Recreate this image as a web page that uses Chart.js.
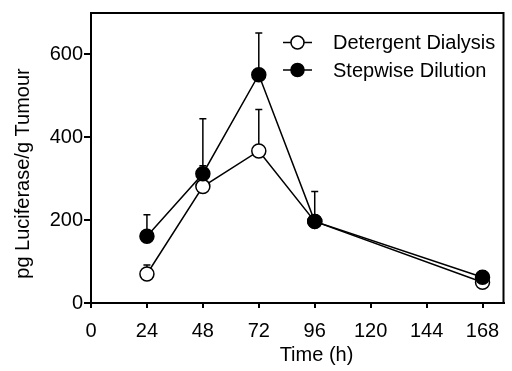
<!DOCTYPE html>
<html>
<head>
<meta charset="utf-8">
<script src="https://cdn.jsdelivr.net/npm/chart.js@4/dist/chart.umd.min.js"></script>
<style>
html,body{margin:0;padding:0;background:#fff;}
canvas{display:block;}
</style>
</head>
<body>
<canvas id="c" width="512" height="371"></canvas>
<script>
// ---- data ----
const timePoints = [24, 48, 72, 96, 168];
const seriesNames = ["Detergent Dialysis", "Stepwise Dilution"];
const detergentMean = [70, 281, 367, 197, 50];
const detergentErr  = [22, 50, 100, 0, 0];
const stepwiseMean  = [161, 312, 551, 197, 62];
const stepwiseErr   = [52, 133, 101, 72, 16];
const xTicks = [0, 24, 48, 72, 96, 120, 144, 168];
const yTicks = [0, 200, 400, 600];
const xTitle = "Time (h)";
const yTitle = "pg Luciferase/g Tumour";

const FONT = "Liberation Sans, Arial, sans-serif";
const toPts = (xs, ys) => xs.map((x, i) => ({x: x, y: ys[i]}));

const errorBars = {
  id: 'errorBars',
  beforeDatasetsDraw(chart) {
    const ctx = chart.ctx, xs = chart.scales.x, ys = chart.scales.y;
    ctx.save();
    ctx.strokeStyle = '#000';
    ctx.lineWidth = 1.5;
    chart.data.datasets.forEach(ds => {
      ds.data.forEach((p, i) => {
        const e = ds.errors[i];
        if (!e) return;
        const px = xs.getPixelForValue(p.x);
        const y0 = ys.getPixelForValue(p.y);
        const y1 = ys.getPixelForValue(p.y + e);
        ctx.beginPath();
        ctx.moveTo(px, y0); ctx.lineTo(px, y1);
        ctx.moveTo(px - 3.5, y1); ctx.lineTo(px + 3.5, y1);
        ctx.stroke();
      });
    });
    ctx.restore();
  }
};

const frameAndText = {
  id: 'frameAndText',
  afterDraw(chart) {
    const ctx = chart.ctx, a = chart.chartArea;
    ctx.save();
    ctx.strokeStyle = '#000';
    ctx.lineWidth = 2;
    ctx.beginPath();
    ctx.moveTo(a.left, a.top); ctx.lineTo(a.right, a.top); ctx.lineTo(a.right, a.bottom);
    ctx.stroke();
    // axis titles
    ctx.fillStyle = '#000';
    ctx.font = '20px ' + FONT;
    ctx.textAlign = 'center';
    ctx.textBaseline = 'middle';
    ctx.fillText(xTitle, 316.5, 355);
    ctx.translate(23, 173.5);
    ctx.rotate(-Math.PI / 2);
    ctx.fillText(yTitle, 0, 0);
    ctx.restore();
    // legend
    ctx.save();
    const rows = [42.5, 70];
    chart.data.datasets.forEach((ds, i) => {
      const y = rows[i];
      ctx.strokeStyle = '#000';
      ctx.lineWidth = 1.5;
      ctx.beginPath(); ctx.moveTo(283, y); ctx.lineTo(312, y); ctx.stroke();
      ctx.beginPath(); ctx.arc(297.5, y, 6.5, 0, Math.PI * 2);
      ctx.fillStyle = ds.pointBackgroundColor; ctx.fill(); ctx.stroke();
      ctx.fillStyle = '#000';
      ctx.font = '20px ' + FONT;
      ctx.textAlign = 'left';
      ctx.textBaseline = 'middle';
      ctx.fillText(ds.label, 333, y + 1);
    });
    ctx.restore();
  }
};

const common = {
  showLine: true,
  borderColor: '#000',
  borderWidth: 1.5,
  pointRadius: 7,
  pointHoverRadius: 7,
  pointBorderColor: '#000',
  pointBorderWidth: 1.5,
  tension: 0
};

new Chart(document.getElementById('c'), {
  type: 'scatter',
  data: {
    datasets: [
      Object.assign({}, common, {label: seriesNames[0], data: toPts(timePoints, detergentMean), errors: detergentErr,
        pointBackgroundColor: '#fff', backgroundColor: '#fff', order: 1}),
      Object.assign({}, common, {label: seriesNames[1], data: toPts(timePoints, stepwiseMean), errors: stepwiseErr,
        pointBackgroundColor: '#000', backgroundColor: '#000', order: 0})
    ]
  },
  options: {
    responsive: false,
    animation: false,
    devicePixelRatio: 1,
    layout: {padding: {top: 13, right: 5, left: 0, bottom: 0}},
    plugins: {legend: {display: false}, tooltip: {enabled: false}},
    scales: {
      x: {
        type: 'linear', min: 0, max: 177,
        afterBuildTicks: s => { s.ticks = xTicks.map(v => ({value: v})); },
        afterFit: s => { s.height = 68; },
        grid: {drawOnChartArea: false, drawTicks: true, tickLength: 5, color: '#000', lineWidth: 2},
        border: {color: '#000', width: 2},
        ticks: {color: '#000', font: {family: FONT, size: 20}, padding: 11, maxRotation: 0, autoSkip: false}
      },
      y: {
        type: 'linear', min: 0, max: 700,
        afterBuildTicks: s => { s.ticks = yTicks.map(v => ({value: v})); },
        afterFit: s => { s.width = 91; },
        grid: {drawOnChartArea: false, drawTicks: true, tickLength: 7, color: '#000', lineWidth: 2},
        border: {color: '#000', width: 2},
        ticks: {color: '#000', font: {family: FONT, size: 20}, padding: 1}
      }
    }
  },
  plugins: [errorBars, frameAndText]
});
</script>
</body>
</html>
